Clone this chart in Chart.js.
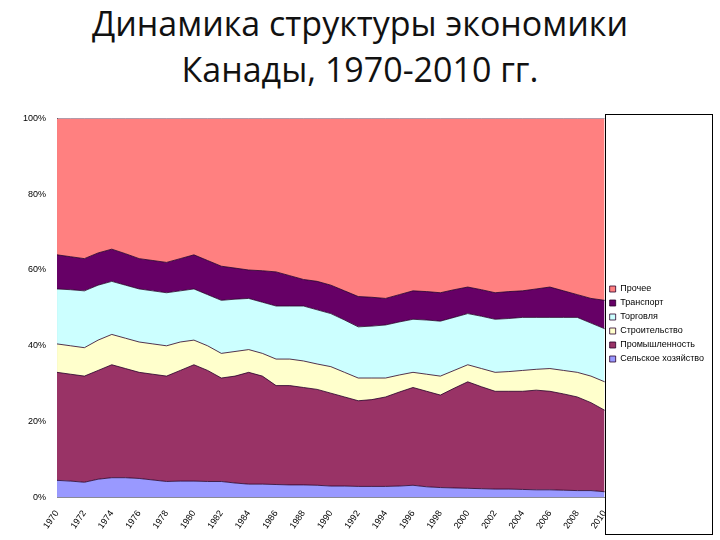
<!DOCTYPE html>
<html><head><meta charset="utf-8">
<script src="https://cdn.jsdelivr.net/npm/chart.js@4"></script>
<style>
body{margin:0;background:#fff;width:720px;height:540px;overflow:hidden}
#t{position:absolute;top:0px;left:0;width:720px;text-align:center;font:34px "Open Sans",sans-serif;line-height:46px;color:#111}
#w{position:absolute;left:0;top:110px;width:720px;height:430px}
</style></head><body>
<div id="t">Динамика структуры экономики<br>Канады, 1970-2010 гг.</div>
<div id="w"><canvas id="c"></canvas></div>
<script>
const years=[];for(let y=1970;y<=2010;y++)years.push(String(y));
const names=["Сельское хозяйство","Промышленность","Строительство","Торговля","Транспорт","Прочее"];
const colors=["#9999FF","#993366","#FFFFCC","#CCFFFF","#660066","#FF8080"];
// cumulative upper boundaries (%)
const cumAgri=[4.5,4.3,4.0,4.8,5.2,5.2,5.0,4.6,4.2,4.3,4.3,4.2,4.2,3.8,3.5,3.5,3.4,3.3,3.3,3.2,3.0,3.0,2.9,2.9,2.9,3.0,3.2,2.8,2.6,2.5,2.4,2.3,2.2,2.2,2.1,2.0,2.0,1.9,1.8,1.8,1.5];
const cumInd=[33,32.5,32,33.5,35,34,33,32.5,32,33.5,35,33.5,31.5,32,33,32,29.5,29.5,29,28.5,27.5,26.5,25.5,25.8,26.5,27.8,29,28,27,28.8,30.5,29.2,28,28,28,28.3,28,27.3,26.5,25,23];
const cumCons=[40.5,40,39.5,41.5,43,42,41,40.5,40,41,41.5,40,38,38.5,39,38,36.5,36.5,36,35.2,34.5,33,31.5,31.5,31.5,32.3,33,32.5,32,33.5,35,34,33,33.2,33.5,33.8,34,33.5,33,32,30.5];
const cumTrade=[55,54.8,54.5,56,57,56,55,54.5,54,54.5,55,53.5,52,52.3,52.5,51.5,50.5,50.5,50.5,49.5,48.5,46.8,45,45.2,45.5,46.3,47,46.8,46.5,47.5,48.5,47.8,47,47.2,47.5,47.5,47.5,47.5,47.5,46,44.5];
const cumTrans=[64,63.5,63,64.5,65.5,64.3,63,62.5,62,63,64,62.5,61,60.5,60,59.8,59.5,58.5,57.5,57,56,54.5,53,52.8,52.5,53.5,54.5,54.3,54,54.8,55.5,54.8,54,54.3,54.5,55,55.5,54.5,53.5,52.5,52];
const cums=[cumAgri,cumInd,cumCons,cumTrade,cumTrans,years.map(()=>100)];
const datasets=cums.map((c,i)=>({label:names[i],data:c.map((v,j)=>+(v-(i?cums[i-1][j]:0)).toFixed(2)),
 backgroundColor:colors[i],borderColor:"rgba(40,0,40,0.8)",borderWidth:1,pointRadius:0,tension:0,fill:i===0?'origin':'-1'}));
const legendBox={id:'lb',afterDraw(ch){const l=ch.legend;const c=ch.ctx;c.save();c.strokeStyle='#000';c.lineWidth=1;
 c.strokeRect(Math.round(l.left)+0.5,Math.round(l.top)+0.5,Math.round(l.width)-2,Math.round(l.height));c.restore();}};
new Chart(document.getElementById('c'),{type:'line',data:{labels:years,datasets},plugins:[legendBox],
options:{responsive:true,maintainAspectRatio:false,animation:false,
layout:{padding:{left:20,right:6,top:4,bottom:6}},
plugins:{legend:{position:'right',reverse:true,labels:{boxWidth:6,boxHeight:6,padding:5,font:{size:9,family:'Liberation Sans'},color:'#000'}},tooltip:{enabled:false}},
scales:{x:{offset:false,grid:{display:false,drawTicks:true},border:{color:'#888'},
 ticks:{autoSkip:false,maxRotation:55,minRotation:55,font:{size:9,family:'Liberation Sans'},color:'#000',callback:(v,i)=>i%2===0?years[i]:''}},
y:{stacked:true,min:0,max:100,grid:{display:false},border:{color:'#888'},
 ticks:{stepSize:20,callback:v=>v+'%',font:{size:9,family:'Liberation Sans'},color:'#000'}}}}});
</script></body></html>
